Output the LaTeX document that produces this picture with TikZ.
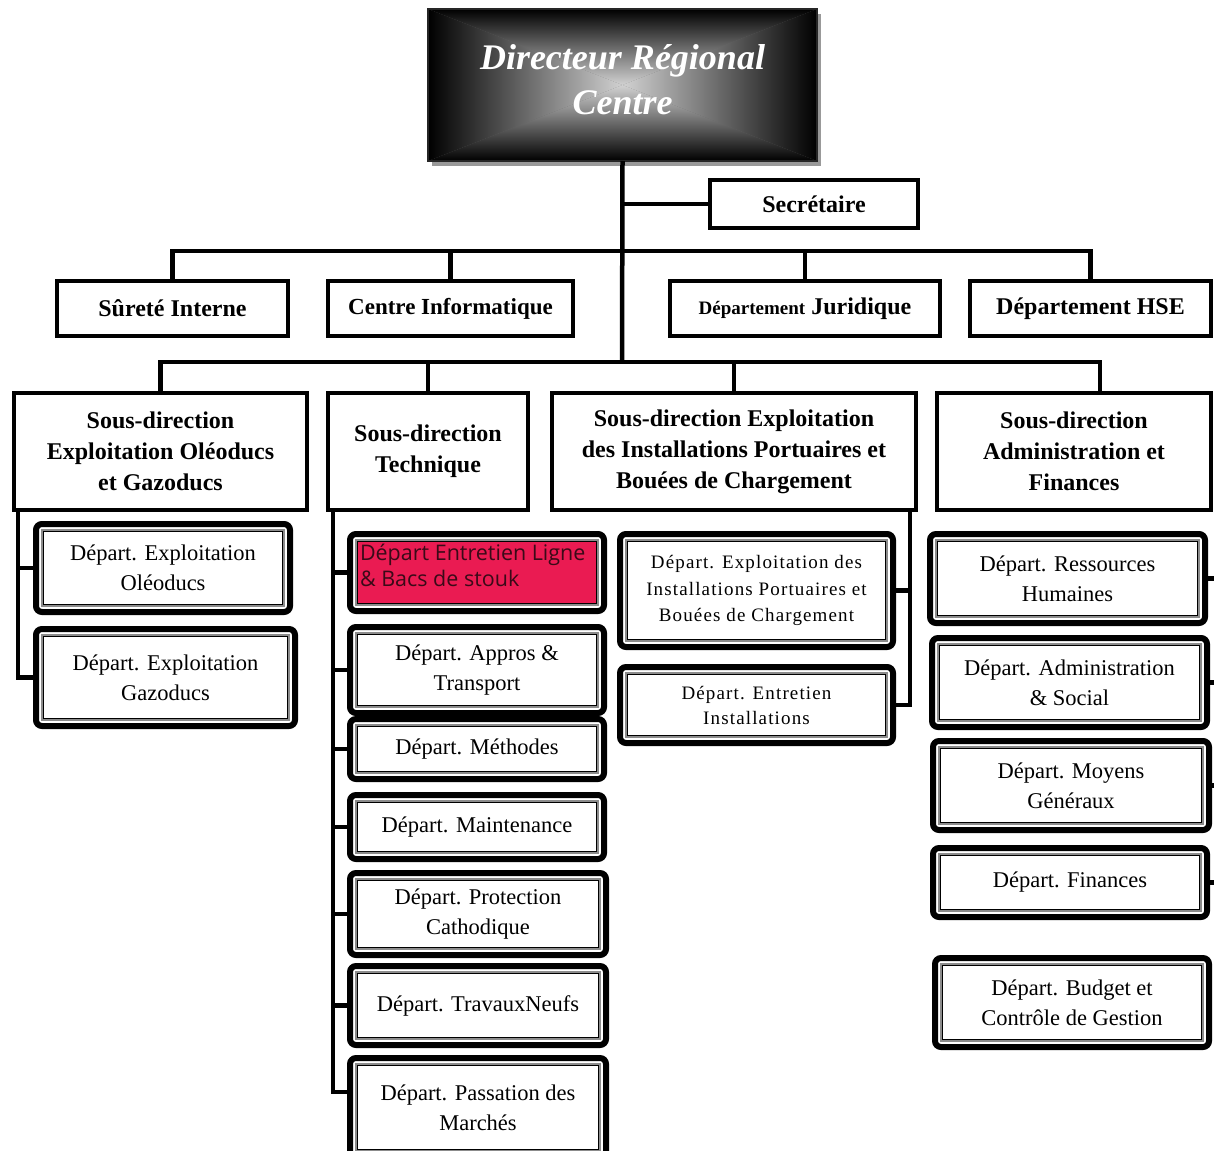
\documentclass[tikz,border=0pt]{standalone}
\usepackage{fontspec}
\setmainfont{Liberation Serif}
\newfontfamily\sansopen{Open Sans}
\newfontfamily\spacedserif[LetterSpace=6]{Liberation Serif}
\usetikzlibrary{calc,backgrounds}

\definecolor{crimson}{HTML}{EA1B52}
\definecolor{inktext}{HTML}{3A0A18}

\tikzset{
  conn/.style={line width=4.5pt, line join=miter},
  plain/.style={draw, line width=4pt, inner sep=0pt, outer sep=0pt, align=center,
    font=\bfseries\fontsize{24}{31}\selectfont},
  dept/.style={draw, line width=6pt, rounded corners=6pt, inner sep=0pt, outer sep=0pt,
    align=center, font=\fontsize{22.5}{30}\selectfont},
  deptgray/.style={draw=black!45, line width=2pt},
  deptline/.style={draw=black, line width=1.2pt},
  headbox/.style={draw=black!85, line width=1.2pt, inner sep=0pt, outer sep=0pt,
    align=center, text=white, font=\bfseries\itshape\fontsize{36}{45}\selectfont}
}

% single-border box: options, name, x1, y1, x2, y2, text
\newcommand\orgbox[7][]{%
  \node[plain,#1, minimum width={#5-#3-4}, minimum height={#6-#4-4}]
    (#2) at ({(#3+#5)/2},{(#4+#6)/2}) {#7};}

% department box with thick-thin frame: options, fill, name, x1, y1, x2, y2, text
\newcommand\deptunit[8][]{%
  \node[dept,#1, minimum width={#6-#4-6}, minimum height={#7-#5-6}]
    (#3) at ({(#4+#6)/2},{(#5+#7)/2}) {#8};
  \begin{pgfonlayer}{background}
    \fill[#2] ($(#3.south west)+(7.5pt,7.5pt)$) rectangle ($(#3.north east)+(-7.5pt,-7.5pt)$);
  \end{pgfonlayer}
  \draw[deptgray] ($(#3.south west)+(6pt,6pt)$) rectangle ($(#3.north east)+(-6pt,-6pt)$);
  \draw[deptline] ($(#3.south west)+(7.5pt,7.5pt)$) rectangle ($(#3.north east)+(-7.5pt,-7.5pt)$);}

\begin{document}
\begin{tikzpicture}[x=1pt,y=-1pt]
\useasboundingbox (0,0) rectangle (1214,1150);
\begin{pgfonlayer}{background}
  \fill[white] (0,0) rectangle (1214,1150);
\end{pgfonlayer}
\clip (0,0) rectangle (1214,1150);

% head of the region
\node[headbox, minimum width=389, minimum height=152, text depth=12pt] (dir) at (622.5,85)
  {Directeur Régional\\Centre};
\begin{pgfonlayer}{background}
  \fill[black!40] ($(dir.south west)+(4pt,-5pt)$) rectangle ($(dir.north east)+(4pt,-5pt)$);
  \fill[black!60] (dir.south west) rectangle (dir.north east);
  \shade[top color=black, bottom color=black!18] (dir.north west) -- (dir.north east) -- (dir.center) -- cycle;
  \shade[bottom color=black, top color=black!18] (dir.south west) -- (dir.south east) -- (dir.center) -- cycle;
  \shade[left color=black, right color=black!18] (dir.north west) -- (dir.south west) -- (dir.center) -- cycle;
  \shade[right color=black, left color=black!18] (dir.north east) -- (dir.south east) -- (dir.center) -- cycle;
\end{pgfonlayer}

% staff attached to the head
\orgbox{sec}{708}{178}{920}{230}{Secrétaire}
\orgbox{surete}{55}{279}{290}{338}{Sûreté Interne}
\orgbox[font=\bfseries\fontsize{23}{31}\selectfont]{info}{326}{279}{575}{338}{Centre Informatique}
\orgbox{jur}{668}{279}{942}{338}{{\fontsize{19}{24}\selectfont Département} Juridique}
\orgbox{hse}{968}{279}{1213}{338}{Département HSE}

% sub-directions
\orgbox{sd1}{12}{391}{309}{512}{Sous-direction\\Exploitation Oléoducs\\et Gazoducs}
\orgbox{sd2}{326}{391}{530}{512}{Sous-direction\\Technique}
\orgbox{sd3}{550}{391}{918}{512}{Sous-direction Exploitation\\des Installations Portuaires et\\Bouées de Chargement}
\orgbox{sd4}{935}{391}{1213}{512}{Sous-direction\\Administration et\\Finances}

% departments: pipelines
\deptunit{white}{oleo}{33}{521}{293}{615}{Départ. Exploitation\\Oléoducs}
\deptunit{white}{gazo}{33}{626}{298}{729}{Départ. Exploitation\\Gazoducs}

% departments: technical
\deptunit[text=inktext, font=\sansopen\fontsize{21.5}{26}\selectfont]{crimson}{entl}{347}{531}{607}{614}
  {\raisebox{2pt}[0pt][0pt]{\parbox[c]{234pt}{\raggedright Départ Entretien Ligne\\\& Bacs de stouk}}}
\deptunit{white}{appro}{347}{624}{607}{716}{Départ. Appros \&\\Transport}
\deptunit{white}{meth}{347}{716}{607}{782}{Départ. Méthodes}
\deptunit{white}{maint}{347}{792}{607}{862}{Départ. Maintenance}
\deptunit{white}{prot}{347}{870}{609}{958}{Départ. Protection\\Cathodique}
\deptunit{white}{trav}{347}{963}{609}{1048}{Départ. TravauxNeufs}
\deptunit{white}{pass}{347}{1055}{609}{1160}{Départ. Passation des\\Marchés}

% departments: port installations
\deptunit[font=\spacedserif\fontsize{19}{26.5}\selectfont]{white}{port}{617}{531}{896}{650}
  {Départ. Exploitation des\\Installations Portuaires et\\Bouées de Chargement}
\deptunit[font=\spacedserif\fontsize{19}{25}\selectfont]{white}{inst}{617}{664}{896}{746}
  {Départ. Entretien\\Installations}

% departments: administration and finances
\deptunit{white}{rh}{927}{531}{1208}{626}{Départ. Ressources\\Humaines}
\deptunit{white}{adm}{929}{635}{1210}{730}{Départ. Administration\\\& Social}
\deptunit{white}{moy}{930}{738}{1212}{833}{Départ. Moyens\\Généraux}
\deptunit{white}{fin}{930}{845}{1210}{920}{Départ. Finances}
\deptunit{white}{bud}{932}{955}{1212}{1050}{Départ. Budget et\\Contrôle de Gestion}

% connector rails
\coordinate (bus1) at (622,251);
\coordinate (bus2) at (622,362);
\coordinate (b2r) at (1100,362);
\coordinate (lx) at (18,0);
\coordinate (mx) at (333,0);
\coordinate (mbot) at (333,1092);
\coordinate (rx) at (910,0);
\coordinate (ax) at (1224,0);

% trunk and staff
\draw[conn] (dir.south) -- (bus2);
\draw[conn] (sec.west) -- (sec.west -| dir.south);
\draw[conn] (surete.north) |- (bus1) -| (hse.north);
\draw[conn] (info.north) -- (info.north |- bus1);
\draw[conn] (jur.north) -- (jur.north |- bus1);

% sub-direction bus
\draw[conn] (sd1.north) |- (b2r) -- (b2r |- sd4.north);
\draw[conn] (sd2.north) -- (sd2.north |- bus2);
\draw[conn] (sd3.north) -- (sd3.north |- bus2);

% pipelines branch
\draw[conn] (sd1.south -| lx) |- (gazo.west);
\draw[conn] (oleo.west) -- (oleo.west -| lx);

% technical branch
\draw[conn] (sd2.south -| mx) -- (mbot) -- (mbot -| pass.west);
\foreach \d in {entl,appro,meth,maint,prot,trav}
  \draw[conn] (\d.west) -- (\d.west -| mx);

% port branch
\draw[conn] (sd3.south -| rx) |- (inst.east);
\draw[conn] (port.east) -- (port.east -| rx);

% administration branch
\draw[conn] (sd4.south -| ax) |- (fin.east);
\foreach \d in {rh,adm,moy}
  \draw[conn] (\d.east) -- (\d.east -| ax);
\end{tikzpicture}
\end{document}
